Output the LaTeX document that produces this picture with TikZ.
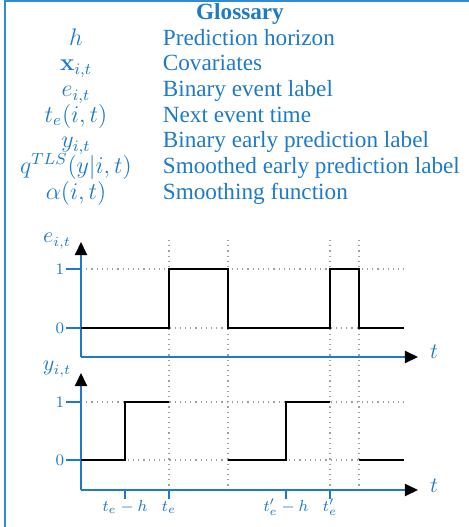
\documentclass[tikz,border=0pt]{standalone}
\usepackage[no-math]{fontspec}
\setmainfont{Liberation Serif}
\usetikzlibrary{arrows.meta}
\definecolor{gblue}{RGB}{30,122,200}
\definecolor{fblue}{RGB}{45,140,215}
\tikzset{
  lbl/.style={text=gblue, inner sep=0pt},
  gl/.style={lbl, anchor=base, font=\fontsize{11.6}{13}\selectfont},
  gr/.style={lbl, anchor=base west, font=\fontsize{11.6}{13}\selectfont},
  axis/.style={draw=gblue, line width=1pt, -{Triangle[black,length=6.5pt,width=6pt]}},
  tick/.style={draw=gblue, line width=0.8pt},
  ticklbl/.style={lbl, font=\fontsize{8}{9}\selectfont},
  axlbl/.style={lbl, font=\fontsize{10.5}{12}\selectfont},
  guide/.style={draw=gray!75, dotted, line width=0.6pt},
  sig/.style={draw=black, line width=0.75pt},
}
\begin{document}
\begin{tikzpicture}[x=0.5pt, y=-0.5pt]
\useasboundingbox (0,0) rectangle (469,527);
% frame
\draw[fblue, line width=1pt] (5.5,527) -- (5.5,1) -- (469,1);
% glossary
\node[lbl, anchor=base, font=\fontsize{11.6}{13}\selectfont\bfseries] (title) at (240,19) {Glossary};
\node[gl] (s1) at (76,45) {$h$};
\node[gr] (d1) at (162.5,45) {Prediction horizon};
\node[gl] (s2) at (76,70.7) {$\mathbf{x}_{i,t}$};
\node[gr] (d2) at (162.5,70.7) {Covariates};
\node[gl] (s3) at (76,96.4) {$e_{i,t}$};
\node[gr] (d3) at (162.5,96.4) {Binary event label};
\node[gl] (s4) at (76,122.1) {$t_e(i,t)$};
\node[gr] (d4) at (162.5,122.1) {Next event time};
\node[gl] (s5) at (76,147.8) {$y_{i,t}$};
\node[gr] (d5) at (162.5,147.8) {Binary early prediction label};
\node[gl] (s6) at (76,173.5) {$q^{TLS}(y|i,t)$};
\node[gr] (d6) at (162.5,173.5) {Smoothed early prediction label};
\node[gl] (s7) at (76,199.2) {$\alpha(i,t)$};
\node[gr] (d7) at (162.5,199.2) {Smoothing function};

% guides (vertical)
\foreach \x/\n in {169/a,228/b,330/c,359/d}{
  \coordinate (vt\n) at (\x,240);
  \coordinate (vb\n) at (\x,487);
  \draw[guide] (vt\n) -- (vb\n);
}
% guides (horizontal)
\foreach \y/\n in {269/a,328/b,402/c,460/d}{
  \coordinate (hl\n) at (81,\y);
  \coordinate (hr\n) at (404,\y);
  \draw[guide] (hl\n) -- (hr\n);
}

% top plot axes
\coordinate (Ttop) at (81,242);
\coordinate (Tor) at (81,357);
\coordinate (Tend) at (418,357);
\draw[axis] (Tor) -- (Ttop);
\draw[axis] (Tor) -- (Tend);
\draw[tick] (66,269) -- (hla);
\draw[tick] (66,328) -- (hlb);
\node[ticklbl, anchor=east] (T1) at (64.5,269) {$1$};
\node[ticklbl, anchor=east] (T0) at (64.5,328) {$0$};
\node[axlbl] (Tey) at (57,241) {$e_{i,t}$};
\node[axlbl] (Tt) at (434,352) {$t$};
% top signal
\draw[sig] (81,328) -- (169,328) -- (169,269) -- (228,269) -- (228,328) -- (330,328) -- (330,269) -- (359,269) -- (359,328) -- (404,328);

% bottom plot axes
\coordinate (Btop) at (81,373);
\coordinate (Bor) at (81,490);
\coordinate (Bend) at (418,490);
\draw[axis] (Bor) -- (Btop);
\draw[axis] (Bor) -- (Bend);
\draw[tick] (66,402) -- (hlc);
\draw[tick] (66,460) -- (hld);
\node[ticklbl, anchor=east] (B1) at (64.5,402) {$1$};
\node[ticklbl, anchor=east] (B0) at (64.5,460) {$0$};
\node[axlbl] (Byy) at (57,369) {$y_{i,t}$};
\node[axlbl] (Bt) at (434,486) {$t$};
% bottom ticks
\foreach \x/\n/\t in {125/a/{t_e-h},169/b/{t_e},286/c/{t'_e-h},330/d/{t'_e}}{
  \coordinate (bt\n) at (\x,490);
  \coordinate (bb\n) at (\x,499);
  \draw[tick] (bt\n) -- (bb\n);
  \node[ticklbl, anchor=base] (bl\n) at (\x,511) {$\t$};
}
% bottom signal
\draw[sig] (81,460) -- (125,460) -- (125,402) -- (169,402);
\draw[sig] (228,460) -- (286,460) -- (286,402) -- (330,402);
\draw[sig] (359,460) -- (404,460);
\end{tikzpicture}
\end{document}
